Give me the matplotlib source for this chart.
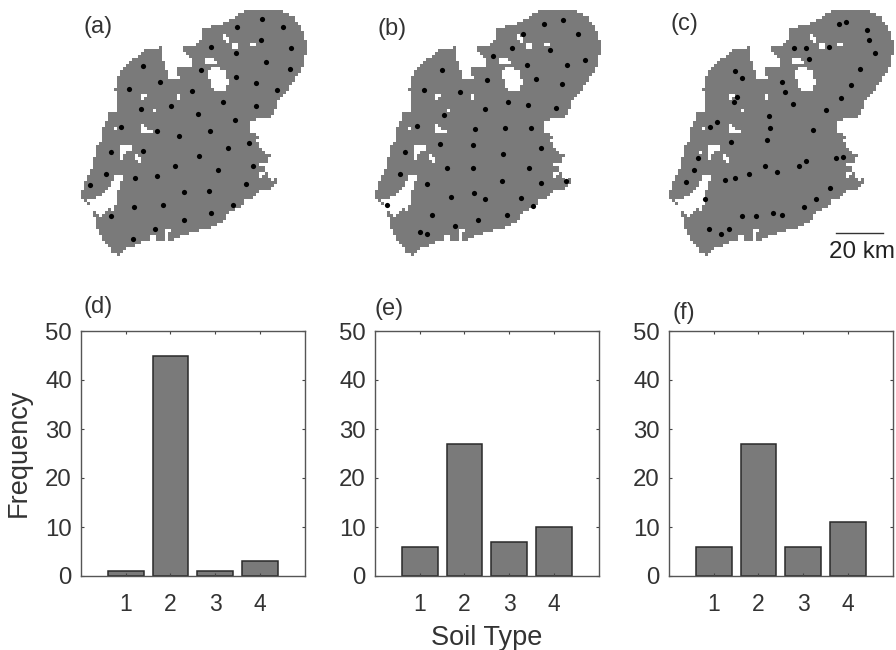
import numpy as np
import matplotlib
matplotlib.use('Agg')
import matplotlib.pyplot as plt
from matplotlib.path import Path

plt.rcParams['font.family'] = ['Liberation Sans', 'DejaVu Sans']

# region outline and holes, in units of a 3x crop of panel (a)
outline = [(550,30),(660,30),(680,40),(700,55),(715,75),(728,100),(733,125),(733,165),(725,195),
           (715,215),(695,245),(670,285),(650,305),(640,335),(625,350),(590,355),(570,362),(568,395),
           (590,410),(585,425),(600,445),(610,455),(628,465),(620,485),(610,500),(618,520),(630,540),
           (645,535),(640,560),(620,572),(600,570),(585,580),(570,600),(530,625),(500,640),(490,660),
           (440,685),(385,700),(330,722),(310,725),(290,725),(260,720),(225,735),(195,745),(180,768),
           (160,760),(130,725),(110,680),(105,655),(90,620),(62,590),(65,570),(80,530),(100,490),
           (108,440),(125,420),(128,385),(140,360),(145,335),(165,340),(175,300),(165,270),(175,230),
           (185,210),(210,180),(245,165),(250,145),(275,150),(300,140),(310,185),(325,235),(355,235),
           (350,205),(385,205),(400,185),(370,155),(360,145),(400,135),(415,130),(425,85),(470,75),
           (520,55)]
holes = [
    [(440,215),(460,200),(495,210),(500,250),(490,270),(455,270),(445,240)],
    [(190,520),(165,525),(150,560),(120,590),(80,600),(90,615),(105,640),(125,650),(150,625),(160,640),(170,590)],
    [(235,378),(250,375),(280,398),(270,405),(245,395)],
    [(178,430),(215,435),(215,455),(195,455),(185,480),(178,470)],
    [(150,450),(160,450),(160,465),(150,465)],
    [(480,105),(495,100),(510,130),(495,125)],
    [(510,125),(530,125),(525,145),(512,145)],
    [(565,128),(585,125),(585,138),(567,138)],
    [(350,280),(365,278),(360,298),(350,298)],
    [(245,285),(262,280),(255,295),(245,298)],
    [(280,325),(290,325),(290,333),(280,333)],
    [(430,175),(470,180),(470,195),(430,195)],
    [(225,465),(238,468),(238,485),(225,482)],
    [(270,710),(285,705),(290,725),(270,725)],
    [(310,690),(330,690),(320,725),(310,725)],
    [(600,485),(615,485),(610,500),(590,500)],
    [(595,520),(610,520),(605,530),(595,530)],
    [(550,600),(585,590),(580,610),(555,625)],
    [(575,375),(585,375),(585,388),(575,388)],
    [(165,405),(178,405),(178,412),(165,412)],
    [(160,380),(170,380),(170,388),(160,388)],
    [(490,655),(520,650),(510,665),(495,668)],
]

# sample sites, read per panel in crop coordinates
sites_a = [(607,57),(531,81),(668,82),(603,121),(452,142),(692,144),(527,159),(618,187),(248,199),(691,206),
           (423,210),(527,230),(300,246),(587,249),(208,268),(396,272),(652,270),(490,305),(332,319),(587,317),
           (242,328),(415,341),(524,360),(184,382),(291,392),(450,394),(357,409),(568,428),(503,444),(250,453),
           (153,457),(417,468),(346,497),(580,497),(475,509),(139,522),(292,529),(226,534),(90,554),(557,553),
           (372,575),(446,573),(309,615),(223,620),(518,615),(453,639),(152,649),(372,660),(284,687),(218,717)]
sites_b = [(553,72),(609,60),(653,101),(488,101),(456,144),(569,151),(400,167),(675,179),(620,195),(501,196),
           (245,209),(529,236),(381,240),(605,251),(192,269),(300,276),(443,306),(503,314),(587,323),(376,328),
           (251,346),(172,377),(346,386),(436,385),(514,385),(240,433),(338,434),(543,445),(136,457),(430,463),
           (261,504),(340,504),(506,503),(121,522),(425,544),(543,548),(617,544),(200,553),(341,578),(272,591),
           (376,597),(482,594),(81,614),(518,617),(442,644),(217,646),(354,660),(286,679),(179,697),(201,702)]
sites_c = [(608,72),(631,67),(692,91),(700,121),(475,145),(511,144),(578,141),(717,160),(520,177),(672,206),
           (297,213),(317,233),(439,247),(645,254),(448,277),(303,290),(614,295),(293,306),(471,312),(571,331),
           (399,349),(243,365),(221,382),(402,384),(530,390),(393,420),(286,426),(601,474),(621,470),(185,475),
           (511,482),(388,499),(489,499),(424,515),(174,510),(339,521),(298,535),(267,541),(149,547),(582,563),
           (208,597),(540,597),(503,622),(410,639),(437,646),(317,649),(360,649),(218,687),(278,686),(255,701)]

# bar heights per soil type
soil_types = [1, 2, 3, 4]
freq_d = [1, 45, 1, 3]
freq_e = [6, 27, 7, 10]
freq_f = [6, 27, 6, 11]

W, H = 896, 650
GREY = '#7a7a7a'
TEXT = '#333333'


def px_axes(fig, left, top, width, height):
    return fig.add_axes([left / W, 1 - (top + height) / H, width / W, height / H])


def region_mask(cell=9):
    xs = np.arange(62, 733, cell) + cell / 2
    ys = np.arange(30, 768, cell) + cell / 2
    xx, yy = np.meshgrid(xs, ys)
    pts = np.column_stack([xx.ravel(), yy.ravel()])
    inside = Path(outline).contains_points(pts)
    for h in holes:
        inside &= ~Path(h).contains_points(pts)
    return inside.reshape(xx.shape), (62, xs[-1] + cell / 2, ys[-1] + cell / 2, 30)


fig = plt.figure(figsize=(W / 100, H / 100), dpi=100)
mask, ext = region_mask()
rgba = np.ones(mask.shape + (4,))
rgba[..., :3] = matplotlib.colors.to_rgb(GREY)
rgba[..., 3] = mask.astype(float)

# map panels: left edge of crop, region shift, sites, label position
map_panels = [(60, 0, sites_a, '(a)', 113, 80),
              (360, -17, sites_b, '(b)', 95, 88),
              (636, 36, sites_c, '(c)', 145, 72)]
for left, dx, sites, label, lx, ly in map_panels:
    ax = px_axes(fig, left, 0, 260, 270)
    ax.imshow(rgba, extent=(ext[0] + dx, ext[1] + dx, ext[2], ext[3]), interpolation='nearest', aspect='auto')
    pts = np.array(sites)
    ax.scatter(pts[:, 0], pts[:, 1], s=14, color='black', linewidths=0, zorder=3)
    ax.set_xlim(0, 780)
    ax.set_ylim(810, 0)
    ax.axis('off')
    ax.text(lx, ly, label, fontsize=17, color=TEXT, ha='center', va='center')
    if label == '(c)':
        ax.plot([601, 742], [700, 700], color='#333333', lw=1)
        ax.text(678, 757, '20 km', fontsize=17.4, color='#222222', ha='center', va='center', clip_on=False)

# histogram panels
bar_panels = [(81, freq_d, '(d)', 98, 307),
              (375, freq_e, '(e)', 389, 309),
              (669, freq_f, '(f)', 684, 313)]
for left, freq, label, lx, ly in bar_panels:
    ax = px_axes(fig, left, 331, 223.5, 245)
    ax.bar(soil_types, freq, width=0.8, color=GREY, edgecolor='#2a2a2a', linewidth=1.1)
    ax.set_xlim(0, 5)
    ax.set_ylim(0, 50)
    ax.set_xticks(soil_types)
    ax.set_yticks(range(0, 51, 10))
    ax.tick_params(axis='x', direction='in', length=2, width=0.8, top=True, pad=12,
                   labelsize=16.5, labelcolor=TEXT, color='#444444')
    ax.tick_params(axis='y', direction='in', length=2, width=0.8, right=True, pad=6.5,
                   labelsize=17.3, labelcolor=TEXT, color='#444444')
    for s in ax.spines.values():
        s.set_color('#555555')
        s.set_linewidth(1.0)
    fig.text(lx / W, 1 - ly / H, label, fontsize=17, color=TEXT, ha='center', va='center')

fig.text(19 / W, 1 - 453 / H, 'Frequency', fontsize=19.5, color=TEXT, rotation=90, ha='center', va='center')
fig.text(487 / W, 1 - 638 / H, 'Soil Type', fontsize=19.5, color=TEXT, ha='center', va='center')

fig.savefig('out.png', dpi=100)
